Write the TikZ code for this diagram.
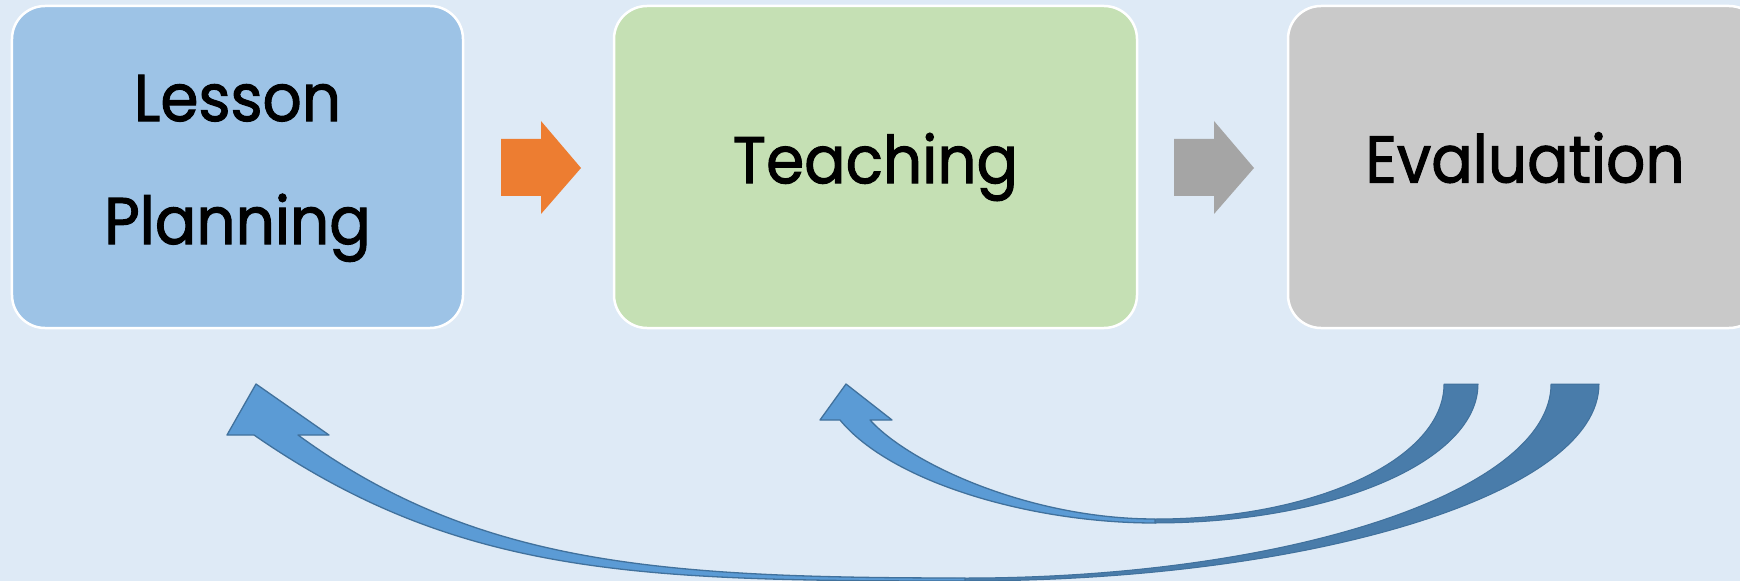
\documentclass[tikz,border=0pt]{standalone}
\usepackage{fontspec}
\setmainfont{Poppins}
\newfontfamily\stagefont{Poppins}[FakeStretch=0.93, FakeBold=1.6]
\definecolor{bgblue}{HTML}{DEEAF6}
\definecolor{planfill}{HTML}{9DC3E6}
\definecolor{teachfill}{HTML}{C5E0B4}
\definecolor{evalfill}{HTML}{C9C9C9}
\definecolor{steporange}{HTML}{ED7D31}
\definecolor{stepgray}{HTML}{A5A5A5}
\definecolor{loopfront}{HTML}{5B9BD5}
\definecolor{loopback}{HTML}{497CAA}
\definecolor{loopline}{HTML}{41719C}
\begin{document}
\begin{tikzpicture}[x=1bp, y=-1bp,
  stagebox/.style={draw=white, line width=2.5bp, rounded corners=33bp,
    inner sep=0pt, align=center, text=black,
    font=\stagefont\fontsize{66bp}{123bp}\selectfont},
  loopfrontpart/.style={fill=loopfront, draw=loopline, line width=1.3bp, line join=round},
  loopbackpart/.style={fill=loopback, draw=loopline, line width=1bp, line join=round}]
\useasboundingbox (0,0) rectangle (1740,581);
\fill[bgblue] (0,0) rectangle (1740,581);
\begin{scope}
\clip (0,0) rectangle (1740,581);

% the three stages
\node[stagebox, fill=planfill, minimum width=451bp, minimum height=322bp,
  text depth=15bp]
  (plan) at (237.5,167) {Lesson\\Planning};
\node[stagebox, fill=teachfill, minimum width=523bp, minimum height=322bp]
  (teach) at (875.5,167) {Teaching};
\node[stagebox, fill=evalfill, minimum width=474bp, minimum height=322bp,
  text height=46bp, text depth=15bp]
  (eval) at (1525,167) {Evaluation};

% block arrows between the stages
\fill[steporange] (501,139) -- (541,139) -- (541,121) -- (581,168)
  -- (541,214) -- (541,196) -- (501,196) -- cycle;
\fill[stepgray] (1174,139) -- (1214,139) -- (1214,121) -- (1254,168)
  -- (1214,214) -- (1214,196) -- (1174,196) -- cycle;

% long feedback loop: Evaluation back to Lesson Planning
\draw[loopbackpart] (965,581) .. controls (1315,581) and (1599,493) .. (1599,384)
  -- (1551,384) .. controls (1551,491) and (1289,578) .. (965,578) -- cycle;
\draw[loopfrontpart] (965,581) .. controls (640,581) and (459,577) .. (254,435)
  -- (227,435) -- (256,384) -- (329,435) -- (298,435)
  .. controls (476,565) and (660,578) .. (965,578) -- cycle;

% short feedback loop: Evaluation back to Teaching
\draw[loopbackpart] (1155,523) .. controls (1333,523) and (1478,461) .. (1478,384)
  -- (1444,384) .. controls (1444,459) and (1315,519) .. (1155,519) -- cycle;
\draw[loopfrontpart] (1155,523) .. controls (1030,523) and (891,482) .. (840,420)
  -- (820,420) -- (846,384) -- (892,420) -- (870,420)
  .. controls (910,464) and (1030,519) .. (1155,519) -- cycle;
\end{scope}
\end{tikzpicture}
\end{document}
